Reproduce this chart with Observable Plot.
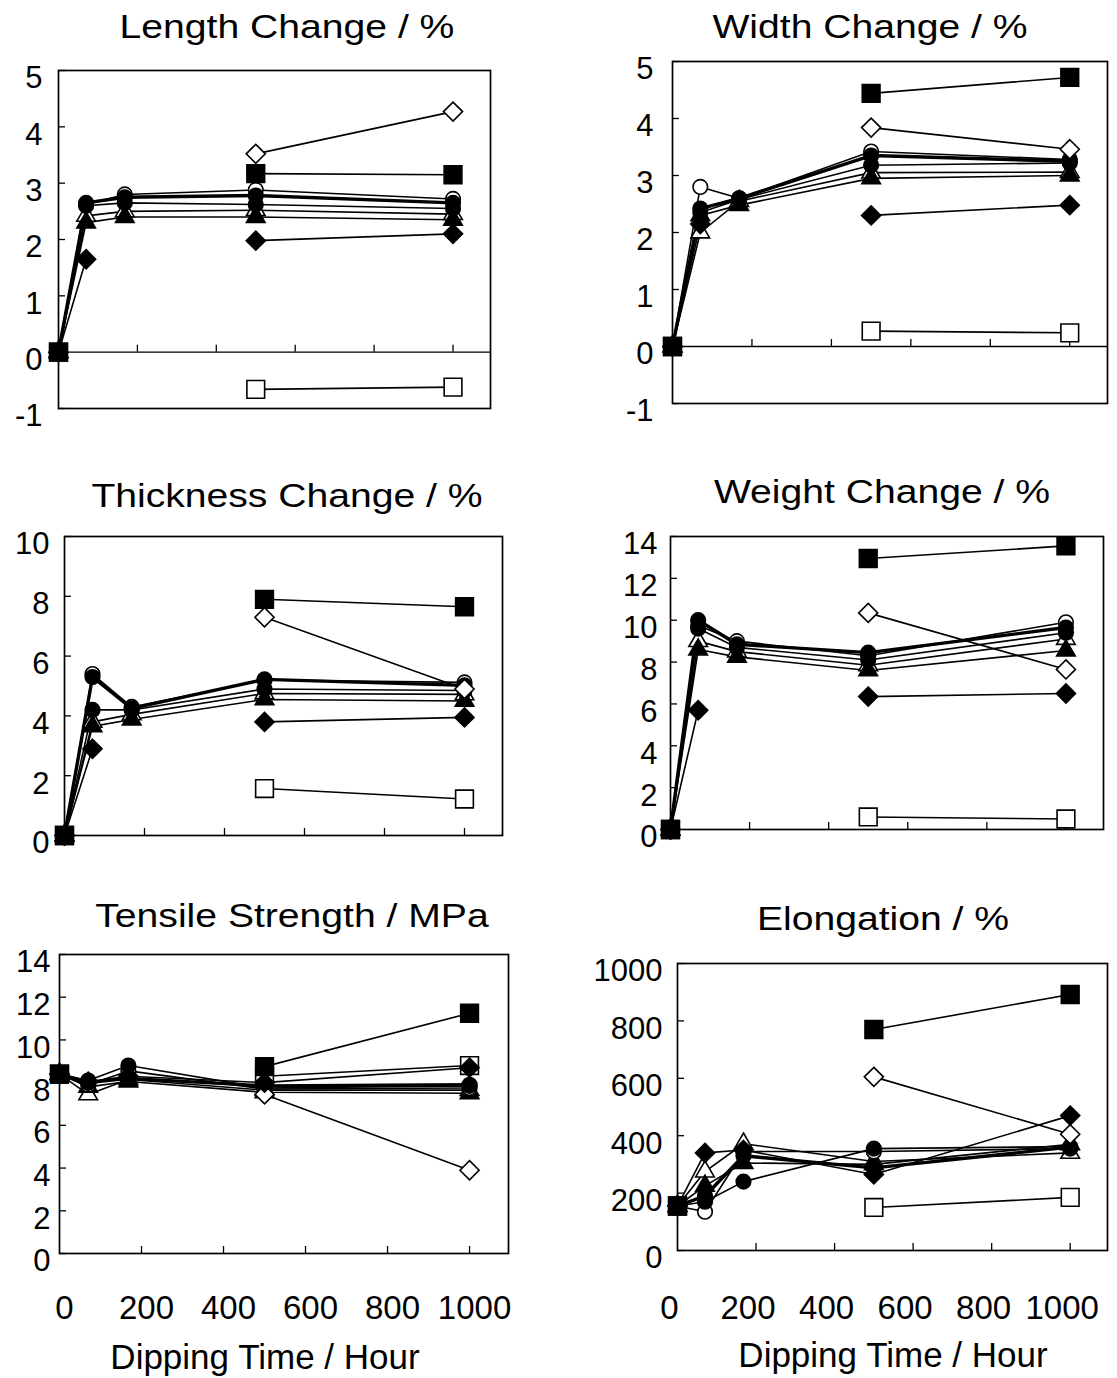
<!DOCTYPE html>
<html>
<head>
<meta charset="utf-8">
<script src="https://cdn.jsdelivr.net/npm/d3@7"></script>
<script src="https://cdn.jsdelivr.net/npm/@observablehq/plot@0.6"></script>
<style>
  html, body { margin: 0; padding: 0; background: #fff; }
  #page { position: relative; width: 1117px; height: 1378px; background: #fff; overflow: hidden;
          font-family: "Liberation Sans", Arial, sans-serif; color: #000; }
  .panel { position: absolute; }
  .title { position: absolute; font-size: 34px; line-height: 1; white-space: nowrap;
           transform: translateX(-50%) scaleX(1.15); }
  .xtitle { position: absolute; font-size: 35px; line-height: 1; white-space: nowrap;
            transform: translateX(-50%); }
</style>
</head>
<body>
<div id="page"></div>
<script>
// ---------------- data ----------------
const hours = [0, 70, 168, 500, 1000];
// series order: filled square, open square, filled diamond, open diamond,
// filled circle (thick), open circle, filled triangle, open triangle, filled circle (2)
const seriesOrder = ["fsq", "osq", "fdi", "odi", "fci", "oci", "ftr", "otr", "fci2"];

const lengthChange = [
  [0, null, null, 3.17, 3.15],
  [0, null, null, -0.66, -0.62],
  [0, 1.65, null, 1.98, 2.10],
  [0, null, null, 3.52, 4.27],
  [0, 2.65, 2.75, 2.78, 2.65],
  [0, 2.62, 2.80, 2.88, 2.72],
  [0, 2.30, 2.40, 2.40, 2.35],
  [0, 2.42, 2.50, 2.52, 2.45],
  [0, 2.60, 2.65, 2.62, 2.55]
];
const widthChange = [
  [0, null, null, 4.44, 4.72],
  [0, null, null, 0.27, 0.24],
  [0, 2.15, null, 2.30, 2.48],
  [0, null, null, 3.84, 3.46],
  [0, 2.42, 2.60, 3.35, 3.25],
  [0, 2.80, 2.60, 3.42, 3.28],
  [0, 2.30, 2.48, 2.95, 3.00],
  [0, 2.00, 2.55, 3.05, 3.06],
  [0, 2.35, 2.58, 3.18, 3.22]
];
const thicknessChange = [
  [0, null, null, 7.90, 7.65],
  [0, null, null, 1.57, 1.22],
  [0, 2.90, null, 3.80, 3.95],
  [0, null, null, 7.30, 4.90],
  [0, 5.30, 4.25, 5.22, 5.02],
  [0, 5.40, 4.30, 5.20, 5.12],
  [0, 3.65, 3.88, 4.55, 4.50],
  [0, 3.80, 4.05, 4.75, 4.72],
  [0, 4.20, 4.20, 4.90, 4.85]
];
const weightChange = [
  [0, null, null, 12.95, 13.55],
  [0, null, null, 0.60, 0.50],
  [0, 5.70, null, 6.35, 6.50],
  [0, null, null, 10.35, 7.65],
  [0, 10.00, 8.85, 8.45, 9.65],
  [0, 9.75, 9.00, 8.30, 9.90],
  [0, 8.60, 8.25, 7.60, 8.55],
  [0, 9.00, 8.50, 7.85, 9.10],
  [0, 9.60, 8.70, 8.10, 9.40]
];
const tensileStrength = [
  [8.4, null, null, 8.75, 11.25],
  [8.4, null, null, 8.30, 8.80],
  [8.4, 8.05, 8.30, 8.00, 8.70],
  [8.4, null, null, 7.45, 3.90],
  [8.4, 8.00, 8.20, 7.85, 7.90],
  [8.4, 7.90, 8.55, 7.70, 7.75],
  [8.4, 7.80, 8.05, 7.55, 7.50],
  [8.4, 7.45, 8.15, 7.65, 7.65],
  [8.4, 8.10, 8.80, 7.75, 7.85]
];
const elongation = [
  [155, null, null, 770, 892],
  [155, null, null, 150, 185],
  [155, 340, 350, 265, 470],
  [155, null, null, 605, 405],
  [155, 190, 330, 288, 360],
  [155, 135, 345, 345, 355],
  [155, 225, 305, 300, 370],
  [155, 275, 372, 310, 340],
  [155, 170, 240, 355, 362]
];

const xTickValues = [200, 400, 600, 800, 1000];
const xLabelValues = [0, 200, 400, 600, 800, 1000];
const ticksLW = [-1, 0, 1, 2, 3, 4, 5];
const ticksThickness = [0, 2, 4, 6, 8, 10];
const ticks14 = [0, 2, 4, 6, 8, 10, 12, 14];
const ticksElong = [0, 200, 400, 600, 800, 1000];

// ---------------- styles ----------------
const symbolOf = {fsq: "square", osq: "square", fdi: "diamond2", odi: "diamond2",
                  fci: "circle", oci: "circle", ftr: "triangle", otr: "triangle", fci2: "circle"};
const filledOf = {fsq: true, osq: false, fdi: true, odi: false, fci: true, oci: false,
                  ftr: true, otr: false, fci2: true};
const radiusOf = {square: 10, diamond2: 8.6, circle: 7.3, triangle: 6.9};
const dotOrder = ["otr", "ftr", "oci", "fci2", "fci", "odi", "osq", "fdi", "fsq"];
const xDomain = [0, 1095];
const FONT = "'Liberation Sans', Arial, sans-serif";

const panels = [
  {title: "Length Change / %", values: lengthChange, yDomain: [-1, 5], yTicks: ticksLW,
   svg: [0, 45, 520, 400], frame: [58, 70, 490, 408], pad: 16, titlePos: [287, 38]},
  {title: "Width Change / %", values: widthChange, yDomain: [-1, 5], yTicks: ticksLW,
   svg: [580, 40, 537, 400], frame: [672, 61, 1107, 403], pad: 19, titlePos: [870, 38]},
  {title: "Thickness Change / %", values: thicknessChange, yDomain: [0, 10], yTicks: ticksThickness,
   svg: [0, 515, 520, 340], frame: [64, 536, 502, 835], pad: 15, titlePos: [287, 507]},
  {title: "Weight Change / %", values: weightChange, yDomain: [0, 14], yTicks: ticks14,
   svg: [580, 515, 537, 340], frame: [670, 536, 1103, 829], pad: 13, titlePos: [882, 503]},
  {title: "Tensile Strength / MPa", values: tensileStrength, yDomain: [0, 14], yTicks: ticks14,
   svg: [0, 935, 530, 420], frame: [59, 954, 508, 1253], pad: 9, titlePos: [292, 927],
   bottom: true, xpad: 42, xdx: 5, xtitlePos: [265, 1369]},
  {title: "Elongation / %", values: elongation, yDomain: [0, 1000], yTicks: ticksElong,
   svg: [580, 935, 537, 420], frame: [677, 963, 1107, 1250], pad: 15, titlePos: [883, 930],
   bottom: true, xpad: 45, xdx: -8, xtitlePos: [893, 1367]}
];

const page = document.getElementById("page");

function addText(cls, text, cx, baseline, size) {
  const d = document.createElement("div");
  d.className = cls;
  d.textContent = text;
  d.style.left = cx + "px";
  d.style.top = (baseline - 0.846 * size) + "px";
  page.appendChild(d);
}

for (const p of panels) {
  const rows = [];
  seriesOrder.forEach((key, si) => {
    p.values[si].forEach((v, ti) => rows.push({key, hour: hours[ti], value: v == null ? NaN : v}));
  });
  const [sx, sy, W, H] = p.svg;
  const [fl, ft, fr, fb] = p.frame;
  const marks = [];
  if (p.yDomain[0] < 0) marks.push(Plot.ruleY([0], {stroke: "#000", strokeWidth: 1.4}));
  marks.push(Plot.axisY({ticks: p.yTicks, tickSize: 0, tickPadding: p.pad, fontSize: 31, dy: 8,
    label: null, tickFormat: d => (d < 0 ? "-" : "") + Math.abs(d)}));
  marks.push(Plot.axisY({ticks: p.yTicks, tickSize: 7, dx: 7, label: null, tickFormat: () => "",
    strokeWidth: 1.3}));
  marks.push(Plot.ruleX(xTickValues, {x: d => d, y1: () => 0, y2: () => 0, insetTop: -7,
    stroke: "#000", strokeWidth: 1.3}));
  if (p.bottom) {
    marks.push(Plot.axisX({ticks: xLabelValues, tickSize: 0, tickPadding: p.xpad, fontSize: 33,
      dx: p.xdx, label: null, tickFormat: d => String(d)}));
  }
  for (const key of seriesOrder) {
    marks.push(Plot.line(rows.filter(r => r.key === key), {
      x: "hour", y: "value", stroke: "#000", strokeWidth: key === "fci" ? 3.4 : 1.6
    }));
  }
  for (const key of dotOrder) {
    const sym = symbolOf[key];
    marks.push(Plot.dot(rows.filter(r => r.key === key && !isNaN(r.value)), {
      x: "hour", y: "value", symbol: sym, r: radiusOf[sym],
      fill: filledOf[key] ? "#000" : "#fff", stroke: "#000", strokeWidth: 1.6
    }));
  }
  marks.push(Plot.frame({stroke: "#000", strokeWidth: 1.7}));

  const chart = Plot.plot({
    width: W, height: H,
    marginLeft: fl - sx, marginTop: ft - sy, marginRight: sx + W - fr, marginBottom: sy + H - fb,
    x: p.bottom ? {domain: xDomain, label: null} : {domain: xDomain, label: null, axis: null},
    y: {domain: p.yDomain, label: null},
    style: {fontFamily: FONT, background: "transparent", color: "#000", overflow: "visible"},
    marks
  });
  const holder = document.createElement("div");
  holder.className = "panel";
  holder.style.left = sx + "px";
  holder.style.top = sy + "px";
  holder.appendChild(chart);
  page.appendChild(holder);

  addText("title", p.title, p.titlePos[0], p.titlePos[1], 34);
  if (p.bottom) addText("xtitle", "Dipping Time / Hour", p.xtitlePos[0], p.xtitlePos[1], 35);
}
</script>
</body>
</html>
